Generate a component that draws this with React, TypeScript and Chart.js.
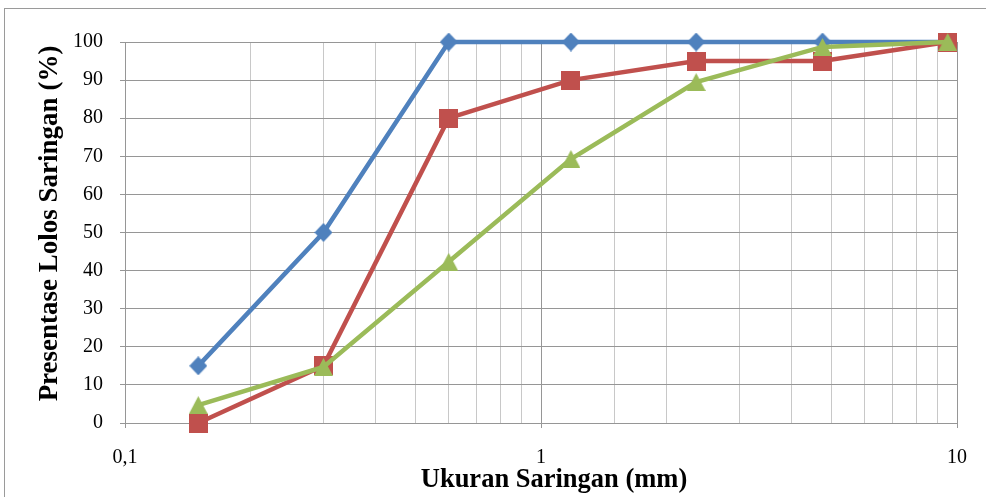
import React, { useEffect, useRef } from "react";
import { Chart, registerables } from "chart.js";

Chart.register(...registerables);

const sieveSizes = [0.15, 0.3, 0.6, 1.18, 2.36, 4.75, 9.5];
const seriesBlue = [15, 50, 100, 100, 100, 100, 100];
const seriesRed = [0, 15, 80, 90, 95, 95, 100];
const seriesGreen = [4.7, 14.7, 42.3, 69.3, 89.5, 98.7, 100];
const majorTicks = [0.1, 1, 10];
const xTitle = "Ukuran Saringan (mm)";
const yTitle = "Presentase Lolos Saringan (%)";

function makeMarker(kind: string, color: string): HTMLCanvasElement {
  const c = document.createElement("canvas");
  const w = kind === "diamond" ? 18 : 19;
  const h = kind === "diamond" ? 19 : kind === "triangle" ? 18 : 19;
  c.width = w;
  c.height = h;
  const ctx = c.getContext("2d")!;
  ctx.fillStyle = color;
  ctx.beginPath();
  if (kind === "diamond") {
    ctx.moveTo(w / 2, 0);
    ctx.lineTo(w, h / 2);
    ctx.lineTo(w / 2, h);
    ctx.lineTo(0, h / 2);
  } else if (kind === "triangle") {
    ctx.moveTo(w / 2, 0);
    ctx.lineTo(w, h);
    ctx.lineTo(0, h);
  } else {
    ctx.rect(0, 0, w, h);
  }
  ctx.closePath();
  ctx.fill();
  return c;
}

const isMajor = (v: number) => majorTicks.some((m) => Math.abs(v - m) < 1e-9);
const FONT = "'Liberation Serif', 'Times New Roman', serif";

const titlePlugin = {
  id: "axisTitles",
  afterDraw(chart: any) {
    const ctx = chart.ctx as CanvasRenderingContext2D;
    const area = chart.chartArea;
    ctx.save();
    ctx.fillStyle = "#000";
    ctx.textAlign = "center";
    ctx.textBaseline = "alphabetic";
    ctx.font = `bold 26.5px ${FONT}`;
    ctx.fillText(xTitle, (area.left + area.right) / 2 + 13, 487);
    ctx.font = `bold 27px ${FONT}`;
    ctx.translate(57, (area.top + area.bottom) / 2 - 9);
    ctx.rotate(-Math.PI / 2);
    ctx.fillText(yTitle, 0, 0);
    ctx.restore();
  },
};

export default function App() {
  const ref = useRef<HTMLCanvasElement>(null);
  useEffect(() => {
    const blue = "#4F81BD";
    const red = "#C0504D";
    const green = "#9BBB59";
    const mk = (vals: number[]) => sieveSizes.map((x, i) => ({ x, y: vals[i] }));
    const ds = (vals: number[], color: string, kind: string, order: number) => ({
      data: mk(vals),
      borderColor: color,
      backgroundColor: color,
      borderWidth: 4.5,
      pointStyle: makeMarker(kind, color) as any,
      clip: false,
      order,
    });
    const chart = new Chart(ref.current!, {
      type: "line",
      data: {
        datasets: [
          ds(seriesBlue, blue, "diamond", 3),
          ds(seriesRed, red, "square", 2),
          ds(seriesGreen, green, "triangle", 1),
        ],
      },
      plugins: [titlePlugin],
      options: {
        animation: false,
        responsive: false,
        devicePixelRatio: 1,
        layout: { padding: { left: 0, right: 29, top: 42, bottom: 0 } },
        plugins: { legend: { display: false }, tooltip: { enabled: false } },
        elements: { line: { tension: 0 } },
        scales: {
          x: {
            type: "logarithmic",
            min: 0.1,
            max: 10,
            border: { display: true, color: "#969696", width: 1 },
            grid: {
              color: (ctx: any) => (isMajor(ctx.tick?.value) ? "#969696" : "#C8C8C8"),
              tickColor: (ctx: any) => (isMajor(ctx.tick?.value) ? "#969696" : "rgba(0,0,0,0)"),
              tickLength: 5,
              lineWidth: 1,
            },
            ticks: {
              autoSkip: false,
              maxRotation: 0,
              padding: 18,
              color: "#000",
              font: { family: FONT, size: 20 },
              callback: (v: any) => {
                const n = Number(v);
                if (!isMajor(n)) return "";
                return String(n).replace(".", ",");
              },
            },
            title: { display: false },
            afterFit: (s: any) => {
              s.height = 74;
            },
          },
          y: {
            type: "linear",
            min: 0,
            max: 100,
            border: { display: true, color: "#969696", width: 1 },
            grid: { color: "#969696", tickColor: "#969696", tickLength: 5, lineWidth: 1 },
            ticks: {
              stepSize: 10,
              padding: 17,
              color: "#000",
              font: { family: FONT, size: 20 },
            },
            title: { display: false },
            afterFit: (s: any) => {
              s.width = 125;
            },
          },
        },
      } as any,
    });
    return () => chart.destroy();
  }, []);
  return (
    <div style={{ position: "fixed", left: 0, top: 0, width: 986, height: 497, background: "#fff", overflow: "hidden" }}>
      <div
        style={{
          position: "absolute",
          left: 4,
          top: 8,
          width: 990,
          height: 500,
          borderLeft: "1px solid #9a9a9a",
          borderTop: "1px solid #9a9a9a",
        }}
      />
      <canvas ref={ref} width={986} height={497} style={{ position: "absolute", left: 0, top: 0, display: "block" }} />
    </div>
  );
}
